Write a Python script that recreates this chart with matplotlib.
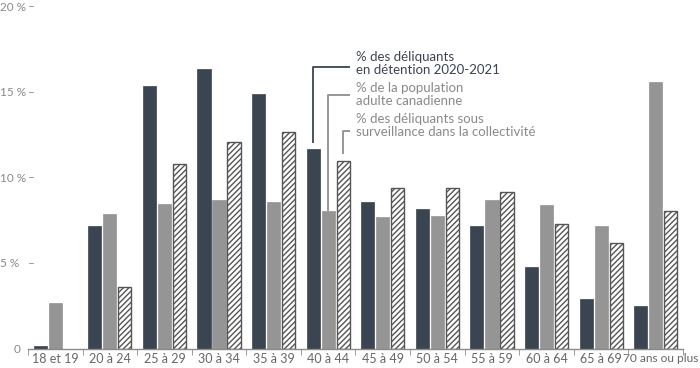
import matplotlib
matplotlib.use("Agg")
import matplotlib.pyplot as plt
import matplotlib.transforms as mtrans
import numpy as np

plt.rcParams['font.family'] = ['Lato', 'DejaVu Sans']
plt.rcParams['hatch.linewidth'] = 1.0
plt.rcParams['hatch.color'] = '#555555'

groupes = ['18 et 19', '20 à 24', '25 à 29', '30 à 34', '35 à 39', '40 à 44',
           '45 à 49', '50 à 54', '55 à 59', '60 à 64', '65 à 69', '70 ans ou plus']
detention = [0.2, 7.2, 15.4, 16.4, 14.9, 11.7, 8.6, 8.2, 7.2, 4.8, 2.9, 2.5]
population = [2.7, 7.9, 8.5, 8.7, 8.6, 8.1, 7.7, 7.8, 8.7, 8.4, 7.2, 15.6]
collectivite = [0.0, 3.6, 10.8, 12.1, 12.7, 11.0, 9.4, 9.4, 9.2, 7.3, 6.2, 8.1]

yticks = [5, 10, 15, 20]
ylabels = ['5 %', '10 %', '15 %', '20 %']

dark = '#3b4451'
gray = '#959595'

fig = plt.figure(figsize=(7, 3.68), dpi=100)
ax = fig.add_axes([0.04, 0.0516, 0.9357, 0.9293])

x = np.arange(len(groupes)) + 0.5
w = 0.24
step = 0.275
ax.bar(x - step, detention, w, color=dark, edgecolor=dark, linewidth=0.5)
ax.bar(x, population, w, color=gray, edgecolor=gray, linewidth=0.5)
ax.bar(x + step, [v if v > 0 else np.nan for v in collectivite], w,
       color='white', edgecolor='#555555', linewidth=1.0, hatch='//////')

ax.set_xlim(0, len(groupes))
ax.set_ylim(0, 20)

for s in ['top', 'right', 'left']:
    ax.spines[s].set_visible(False)
ax.spines['bottom'].set_color('#8a8a8a')
ax.spines['bottom'].set_linewidth(1.0)

ax.set_xticks(x)
ax.set_xticklabels(groupes, fontsize=9, color='#666666')
ax.set_xticks(np.arange(len(groupes) + 1), minor=True)
ax.tick_params(axis='x', which='major', length=0, pad=3)
ax.tick_params(axis='x', which='minor', length=4, color='#8a8a8a', direction='out')
# le dernier libellé déborde vers la droite, on l'aligne sur le bord
last = ax.get_xticklabels()[-1]
last.set_ha('right')
last.set_fontsize(8.6)
last.set_transform(last.get_transform() + mtrans.ScaledTranslation(0.425, 0, fig.dpi_scale_trans))

# étiquettes de l'axe y dessinées à la main (texte à gauche, tiret près de l'axe)
ax.set_yticks([])
tr = mtrans.blended_transform_factory(fig.transFigure, ax.transData)
for v, lab in zip(yticks, ylabels):
    fig.text(0.0, v, lab, transform=tr, fontsize=8.5, color='#888888',
             ha='left', va='center')
    fig.text(35 / 700, v, '–', transform=tr, fontsize=8.5, color='#888888',
             ha='right', va='center')
fig.text(21 / 700, 0, '0', transform=tr, fontsize=8.5, color='#888888',
         ha='right', va='center')

# annotations avec lignes de rappel
i = 5
lx = 5.9
tx = 6.01
def leader(xb, ystart, yh, color):
    ax.plot([xb, xb, lx], [ystart, yh, yh], color=color, lw=1.3,
            solid_capstyle='butt', clip_on=False)

leader(x[i] - step, detention[i] + 0.35, 16.5, '#3b4451')
leader(x[i], population[i], 14.85, '#8f8f8f')
leader(x[i] + step, collectivite[i] + 0.4, 12.75, '#8f8f8f')

ax.text(tx, 16.7, '% des déliquants\nen détention 2020-2021', fontsize=9.5,
        color='#3b4451', va='center', ha='left', linespacing=1.1)
ax.text(tx, 14.9, '% de la population\nadulte canadienne', fontsize=9.5,
        color='#8a8a8a', va='center', ha='left', linespacing=1.1)
ax.text(tx, 13.1, '% des déliquants sous\nsurveillance dans la collectivité', fontsize=9.5,
        color='#8a8a8a', va='center', ha='left', linespacing=1.1)

fig.savefig('out.png', dpi=100)
